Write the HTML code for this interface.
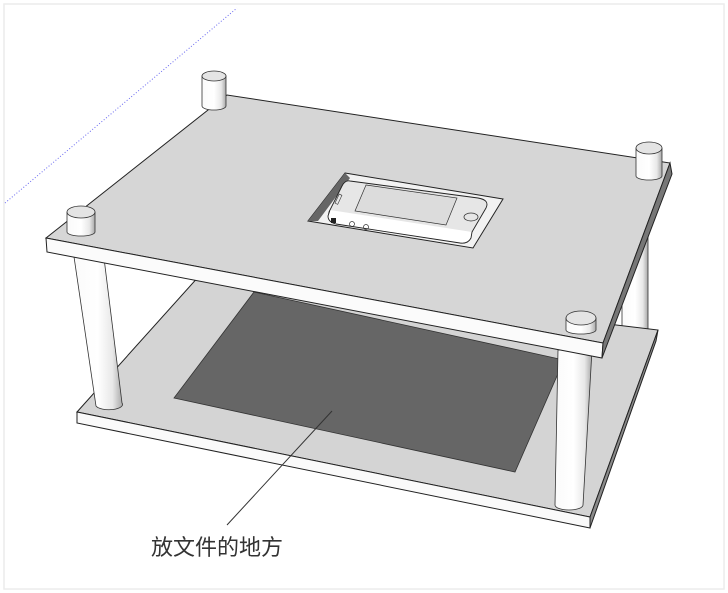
<!DOCTYPE html>
<html><head><meta charset="utf-8"><style>
html,body{margin:0;padding:0;background:#fff;width:728px;height:593px;overflow:hidden}
svg{position:absolute;left:0;top:0}
</style></head><body>
<svg width="728" height="593" viewBox="0 0 728 593" xmlns="http://www.w3.org/2000/svg">
<defs>
<linearGradient id="cyl" x1="0" x2="1" y1="0" y2="0">
<stop offset="0" stop-color="#fafafa"/><stop offset="0.5" stop-color="#ffffff"/><stop offset="0.8" stop-color="#e8e8e8"/><stop offset="1" stop-color="#a8a8a8"/>
</linearGradient>
</defs>
<rect x="4" y="4" width="720" height="585" fill="#fff" stroke="#ececec" stroke-width="1.5"/>
<line x1="5" y1="203" x2="237" y2="8" stroke="#6a6af0" stroke-width="1" stroke-dasharray="1,2"/>

<!-- back-right lower pillar -->
<path d="M622,170 L648,170 L648,338 A13,5 0 0 1 622,338 Z" fill="url(#cyl)" stroke="#333" stroke-width="0.8"/>

<!-- bottom plate -->
<polygon points="77,412 200,275 658,330 590,517" fill="#d4d4d4" stroke="#222" stroke-width="1"/>
<polygon points="77,412 590,517 590,528 77,423" fill="#fafafa" stroke="#222" stroke-width="1"/>
<polygon points="590,517 658,330 656,341 590,528" fill="#8a8a8a" stroke="#222" stroke-width="1"/>
<!-- dark paper -->
<polygon points="254,292 564,360 515,472 174,398" fill="#666" stroke="#333" stroke-width="0.8"/>

<!-- front-left pillar -->
<path d="M73,250 L103,250 L122,403 A13,5 0 0 1 96,406 Z" fill="url(#cyl)" stroke="#333" stroke-width="0.8"/>
<!-- front-right pillar -->
<path d="M558,350 L592,350 L583,505 A14,5 0 0 1 555,505 Z" fill="url(#cyl)" stroke="#333" stroke-width="0.8"/>

<!-- top plate -->
<polygon points="46,238 227,95 670,163 603,343" fill="#d6d6d6" stroke="#222" stroke-width="1"/>
<polygon points="46,238 603,343 602,358 47,252" fill="#fbfbfb" stroke="#222" stroke-width="1"/>
<polygon points="603,343 670,163 672,174 602,358" fill="#777" stroke="#222" stroke-width="1"/>

<!-- caps -->
<g stroke="#333" stroke-width="0.8">
<path d="M202,76 L226,76 L226,106 A12,4 0 0 1 202,106 Z" fill="url(#cyl)"/>
<ellipse cx="214" cy="76" rx="12" ry="5" fill="#e4e4e4"/>
<path d="M636,148 L662,148 L662,176 A13,4 0 0 1 636,176 Z" fill="url(#cyl)"/>
<ellipse cx="649" cy="148" rx="13" ry="6" fill="#e4e4e4"/>
<path d="M67,212 L95,212 L95,232 A14,4 0 0 1 67,232 Z" fill="url(#cyl)"/>
<ellipse cx="81" cy="212" rx="14" ry="6" fill="#e4e4e4"/>
<path d="M566,318 L596,318 L596,330 A15,4 0 0 1 566,330 Z" fill="url(#cyl)"/>
<ellipse cx="581" cy="318" rx="15" ry="7" fill="#e4e4e4"/>
</g>

<!-- phone cutout -->
<polygon points="345,173 503,199 473,248 308,221" fill="#f2f2f2" stroke="#222" stroke-width="1"/>
<polygon points="345,173 308,221 318,221 350,178" fill="#666"/>
<path d="M350,181 L478,198 Q490,200 486,208 L472,232 Q468,238 460,237 L335,218 Q326,216 330,210 L342,186 Q345,180 350,181 Z" fill="#e6e6e6" stroke="#222" stroke-width="0.9"/>
<path d="M330,210 L328,216 Q328,222 336,224 L460,243 Q468,244 471,238 L472,232" fill="#fff" stroke="#222" stroke-width="0.9"/>
<polygon points="366,185 457,198 446,225 355,211" fill="#dcdcdc" stroke="#333" stroke-width="0.7"/>
<ellipse cx="471" cy="217" rx="7" ry="4" fill="none" stroke="#333" stroke-width="0.8"/>
<rect x="337" y="194" width="3" height="10" fill="none" stroke="#333" stroke-width="0.6" transform="rotate(25 338 199)"/>
<rect x="331" y="218" width="5" height="5" fill="#222"/>
<circle cx="352" cy="224" r="2.5" fill="none" stroke="#333" stroke-width="0.7"/>
<circle cx="366" cy="227" r="2.5" fill="none" stroke="#333" stroke-width="0.7"/>

<!-- leader -->
<line x1="227" y1="525" x2="332" y2="411" stroke="#333" stroke-width="1"/>
<text x="151" y="555" font-family="'Liberation Sans','Noto Sans CJK SC',sans-serif" font-size="22" fill="#333">放文件的地方</text>
</svg>
</body></html>
